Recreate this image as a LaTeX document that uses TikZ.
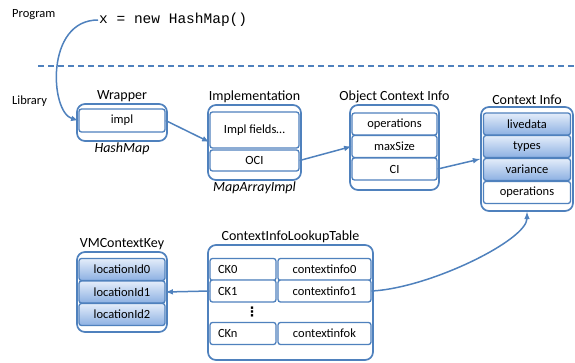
\documentclass[tikz,border=0pt]{standalone}
\usepackage{fontspec}
\setmainfont{Carlito}
\newfontfamily\codefont{Liberation Mono}
\newfontfamily\symfont{DejaVu Sans}
\usetikzlibrary{arrows,positioning}
\definecolor{lineblue}{RGB}{79,129,189}
\definecolor{celltop}{RGB}{228,237,250}
\definecolor{cellbot}{RGB}{140,176,226}
\tikzset{>=latex}
\tikzset{
  outerbox/.style={draw=lineblue,line width=1.7pt,rounded corners=8pt,fill=white,inner sep=0pt},
  cell/.style={draw=lineblue,line width=1.3pt,rounded corners=2.5pt,fill=white,inner sep=0pt,
    minimum height=22pt,font=\fontsize{12.5}{14}\selectfont},
  bluecell/.style={cell,top color=celltop,bottom color=cellbot},
  leftcell/.style={cell,text width=50pt,align=left,minimum width=66pt},
  boxtitle/.style={inner sep=1pt,font=\fontsize{14}{16}\selectfont},
  typelabel/.style={inner sep=1pt,font=\fontsize{14}{16}\selectfont\itshape},
  sidelabel/.style={anchor=west,inner sep=0pt,font=\fontsize{12.5}{14}\selectfont},
  link/.style={draw=lineblue,line width=1.5pt,->}
}

\begin{document}
\begin{tikzpicture}[x=1pt,y=-1pt]
  \useasboundingbox (0,0) rectangle (575,362);
  % Program / Library
  \node[sidelabel] (prog) at (12,15) {Program};
  \node[sidelabel] (lib) at (12,101) {Library};
  \node[anchor=west,inner sep=1pt,font=\codefont\fontsize{14.5}{16}\selectfont] (code) at (98,20) {x = new HashMap()};
  \coordinate (sepl) at (38,66);
  \coordinate (sepr) at (575,66);
  \draw[lineblue,line width=1.5pt,dash pattern=on 6pt off 4pt] (sepl) -- (sepr);

  % Wrapper
  \node[outerbox,minimum width=90pt,minimum height=37pt] (wrap) at (122,122.5) {};
  \node[cell,minimum width=86pt,minimum height=23pt] (wimpl) at (122,120.5) {impl};
  \node[boxtitle,above=0pt of wrap] (wraptitle) {Wrapper};
  \node[typelabel,below=0pt of wrap] (wraptype) {HashMap};

  % Implementation
  \node[outerbox,minimum width=93pt,minimum height=75pt] (impl) at (254.5,142.5) {};
  \node[cell,minimum width=89pt,minimum height=36pt] (ifields) at (254.5,130) {Impl fields\dots};
  \node[cell,minimum width=89pt,minimum height=21pt] (oci) at (254.5,160.5) {OCI};
  \node[boxtitle,above=0pt of impl] (impltitle) {Implementation};
  \node[typelabel,below=0pt of impl] (impltype) {MapArrayImpl};

  % Object Context Info
  \node[outerbox,minimum width=89pt,minimum height=85pt] (objinfo) at (394.5,147.5) {};
  \node[cell,minimum width=85pt] (ops) at (394.5,124) {operations};
  \node[cell,minimum width=85pt] (maxsize) at (394.5,146.5) {maxSize};
  \node[cell,minimum width=85pt] (ci) at (394.5,169) {CI};
  \node[boxtitle,above=0pt of objinfo] (objtitle) {Object Context Info};

  % Context Info
  \node[outerbox,minimum width=92pt,minimum height=104pt] (ctxinfo) at (527,159) {};
  \node[bluecell,minimum width=87pt] (livedata) at (527,124) {livedata};
  \node[bluecell,minimum width=87pt] (types) at (527,146.5) {types};
  \node[bluecell,minimum width=87pt] (variance) at (527,169.5) {variance};
  \node[cell,minimum width=87pt] (ctxops) at (527,192.5) {operations};
  \node[boxtitle,above=0pt of ctxinfo] (ctxtitle) {Context Info};

  % VMContextKey
  \node[outerbox,minimum width=90pt,minimum height=80pt] (vmkey) at (122,292) {};
  \node[bluecell,minimum width=86pt] (loc0) at (122,269.5) {locationId0};
  \node[bluecell,minimum width=86pt] (loc1) at (122,292) {locationId1};
  \node[bluecell,minimum width=86pt] (loc2) at (122,314.5) {locationId2};
  \node[boxtitle,above=0pt of vmkey] (vmtitle) {VMContextKey};

  % ContextInfoLookupTable
  \node[outerbox,minimum width=165pt,minimum height=115pt] (lookup) at (290.5,302.5) {};
  \node[leftcell] (ck0) at (243,269.5) {CK0};
  \node[cell,minimum width=93pt] (cinfo0) at (324.5,269.5) {contextinfo0};
  \node[leftcell] (ck1) at (243,291) {CK1};
  \node[cell,minimum width=93pt] (cinfo1) at (324.5,291) {contextinfo1};
  \node[inner sep=0pt,font=\symfont\bfseries\fontsize{13}{15}\selectfont] (vdots) at (252,312) {⋮};
  \node[leftcell] (ckn) at (243,333.5) {CKn};
  \node[cell,minimum width=93pt] (cinfok) at (324.5,333.5) {contextinfok};
  \node[boxtitle,above=0pt of lookup] (lookuptitle) {ContextInfoLookupTable};

  % Links
  \draw[link] (code.west) .. controls (45,20) and (50,112) .. (wimpl.west);
  \draw[link] (wimpl.east) -- ([yshift=-12pt]ifields.west);
  \draw[link] (oci.east) -- (maxsize.west);
  \draw[link] (ci.east) -- (ctxinfo.west);
  \draw[link] (cinfo1.east) .. controls (430,288) and (527,240) .. (ctxinfo.south);
  \draw[link] (ck1.west) -- (loc1.east);
\end{tikzpicture}
\end{document}
